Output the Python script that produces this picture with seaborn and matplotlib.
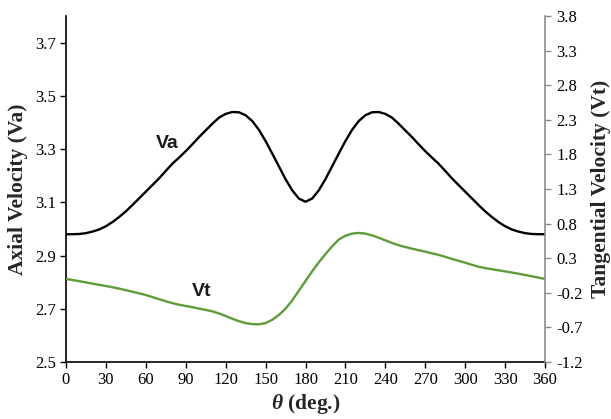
import numpy as np
import pandas as pd
import matplotlib
matplotlib.use("Agg")
import matplotlib.pyplot as plt
import seaborn as sns

theta = list(range(0, 365, 5))

va_half = [2.980, 2.980, 2.981, 2.984, 2.990, 2.998, 3.010, 3.026, 3.045, 3.066,
           3.090, 3.115, 3.140, 3.165, 3.190, 3.218, 3.245, 3.268, 3.292, 3.318,
           3.345, 3.370, 3.395, 3.418, 3.432, 3.439, 3.438, 3.427, 3.405, 3.372,
           3.330, 3.283, 3.235, 3.187, 3.145, 3.114, 3.102]
va = va_half + va_half[-2::-1]

vt = [0.000, -0.015, -0.032, -0.050, -0.068, -0.085, -0.102, -0.120, -0.140, -0.162,
      -0.185, -0.208, -0.232, -0.262, -0.292, -0.322, -0.350, -0.372, -0.390, -0.408,
      -0.428, -0.447, -0.468, -0.498, -0.535, -0.575, -0.610, -0.638, -0.652, -0.655,
      -0.638, -0.590, -0.520, -0.430, -0.310, -0.170, -0.030, 0.110, 0.240, 0.360,
      0.470, 0.570, 0.625, 0.655, 0.665, 0.655, 0.630, 0.595, 0.558, 0.520,
      0.487, 0.462, 0.438, 0.415, 0.394, 0.370, 0.348, 0.320, 0.290, 0.262,
      0.235, 0.205, 0.177, 0.157, 0.141, 0.125, 0.109, 0.093, 0.076, 0.058,
      0.039, 0.020, 0.000]

x_ticks = list(range(0, 361, 30))
left_ticks = [2.5, 2.7, 2.9, 3.1, 3.3, 3.5, 3.7]
right_ticks = [-1.2, -0.7, -0.2, 0.3, 0.8, 1.3, 1.8, 2.3, 2.8, 3.3, 3.8]

df = pd.DataFrame({"theta": theta, "Va": va, "Vt": vt})

sns.set_style("white")
plt.rcParams['font.family'] = ['Liberation Serif', 'DejaVu Serif']
plt.rcParams['mathtext.fontset'] = 'custom'
plt.rcParams['mathtext.it'] = 'Liberation Serif:italic:bold'

fig = plt.figure(figsize=(6.11, 4.19), dpi=100)
ax = fig.add_axes([0.108, 0.136, 0.784, 0.826])
ax2 = ax.twinx()

green = "#5e9c3a"
sns.lineplot(data=df, x="theta", y="Va", ax=ax, color="black", linewidth=1.7)
sns.lineplot(data=df, x="theta", y="Vt", ax=ax2, color=green, linewidth=1.7)

ax.set_xlim(0, 360)
ax.set_ylim(2.5, 3.8)
ax2.set_ylim(-1.2, 3.8)
ax.set_xticks(x_ticks)
ax.set_yticks(left_ticks)
ax.set_yticklabels([f"{v:.1f}" for v in left_ticks])
ax2.set_yticks(right_ticks)
ax2.set_yticklabels([f"{v:.1f}" for v in right_ticks])

for a in (ax, ax2):
    a.spines['top'].set_visible(False)
ax.spines['right'].set_visible(False)
ax2.spines['left'].set_visible(False)
ax2.spines['bottom'].set_visible(False)
ax.spines['left'].set_color('black')
ax.spines['bottom'].set_color('black')
ax.spines['left'].set_linewidth(1.2)
ax.spines['bottom'].set_linewidth(1.2)
ax2.spines['right'].set_color('#8c8c8c')
ax2.spines['right'].set_linewidth(1.2)

ax.tick_params(axis='both', direction='out', length=4, width=1, color='black',
               labelsize=12, labelcolor='black', left=True, bottom=True, pad=3)
ax2.tick_params(axis='y', direction='out', length=4, width=1, color='#8c8c8c',
                labelsize=12, labelcolor='black', right=True, pad=4)

ax.set_xlabel(r"$\theta$ (deg.)", fontsize=15.5, fontweight='bold', labelpad=3)
ax.set_ylabel("Axial Velocity (Va)", fontsize=15.5, fontweight='bold', labelpad=5)
ax2.set_ylabel("Tangential Velocity (Vt)", fontsize=15.5, fontweight='bold', labelpad=6)

ax.text(76, 3.32, "Va", fontsize=14, fontweight='bold', family=['Liberation Sans'],
        ha='center', va='center', color='#1a1a1a')
ax2.text(102, -0.18, "Vt", fontsize=14, fontweight='bold', family=['Liberation Sans'],
         ha='center', va='center', color='#1a1a1a')

fig.savefig("out.png", dpi=100)
